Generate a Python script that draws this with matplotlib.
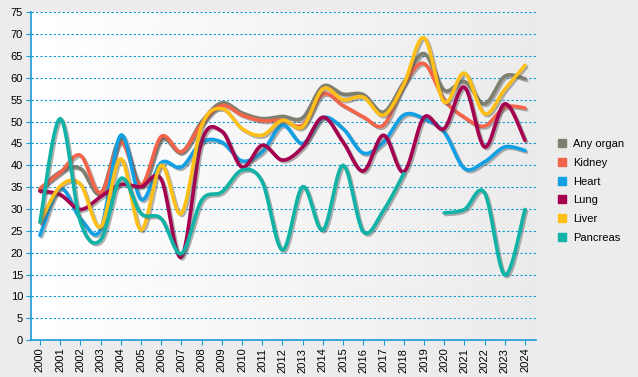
import numpy as np
import matplotlib.pyplot as plt
import matplotlib.patheffects as pe
from matplotlib.lines import Line2D

plt.rcParams['font.family'] = ['Liberation Sans', 'DejaVu Sans']

years = list(range(2000, 2025))

any_organ = [34.5, 38.5, 39.3, 33.5, 46.1, 35.4, 46.0, 43.0, 50.0, 54.3, 52.0, 50.7, 51.2, 50.9,
             58.1, 56.3, 56.2, 52.2, 59.0, 65.6, 57.2, 59.2, 54.1, 60.4, 59.8]
kidney = [34.7, 38.3, 42.3, 33.7, 45.3, 35.4, 46.6, 43.1, 49.5, 53.7, 51.5, 50.2, 50.3, 49.2,
          56.3, 53.7, 51.1, 49.2, 58.5, 63.3, 55.0, 51.0, 49.0, 53.3, 53.1]
heart = [24.0, 34.7, 27.8, 25.3, 46.9, 32.2, 40.6, 39.6, 45.3, 45.3, 41.0, 43.1, 49.2, 45.0,
         50.9, 48.4, 42.8, 45.3, 51.5, 50.7, 47.6, 39.3, 40.8, 44.2, 43.4]
lung = [34.1, 33.3, 29.9, 32.8, 35.6, 35.1, 36.8, 19.0, 45.5, 47.8, 39.6, 44.6, 41.2, 44.2,
        51.0, 45.3, 38.7, 46.9, 38.5, 51.0, 48.4, 57.9, 44.2, 54.1, 45.7]
liver = [27.0, 35.2, 35.7, 25.9, 41.5, 25.2, 40.0, 29.0, 49.0, 53.0, 48.4, 46.9, 50.3, 48.8,
         57.5, 55.0, 55.6, 51.5, 58.5, 69.2, 54.5, 61.1, 51.8, 57.4, 62.9]
pancreas = [27.0, 50.7, 27.1, 22.9, 37.0, 29.0, 27.8, 19.8, 32.0, 33.9, 38.9, 36.2, 20.6, 35.1,
            25.2, 40.0, 24.8, 29.7, 38.1, np.nan, 29.1, 29.9, 33.7, 14.9, 29.9]

names = ['Any organ', 'Kidney', 'Heart', 'Lung', 'Liver', 'Pancreas']
series = [any_organ, kidney, heart, lung, liver, pancreas]
colors = ['#7f7f6f', '#f4644a', '#12a0e4', '#a5004f', '#fdbf18', '#10b3a5']


def catmull(x, y, n=16):
    # smooth curve through every point (Catmull-Rom)
    x = np.asarray(x, float)
    y = np.asarray(y, float)
    px = np.concatenate([[x[0]], x, [x[-1]]])
    py = np.concatenate([[y[0]], y, [y[-1]]])
    xs, ys = [], []
    t = np.linspace(0, 1, n, endpoint=False)
    for i in range(1, len(px) - 2):
        for p, out in ((px, xs), (py, ys)):
            p0, p1, p2, p3 = p[i - 1], p[i], p[i + 1], p[i + 2]
            out.extend(0.5 * (2 * p1 + (-p0 + p2) * t + (2 * p0 - 5 * p1 + 4 * p2 - p3) * t ** 2
                              + (-p0 + 3 * p1 - 3 * p2 + p3) * t ** 3))
    xs.append(x[-1])
    ys.append(y[-1])
    return xs, ys


fig = plt.figure(figsize=(6.38, 3.77), dpi=100)
fig.patch.set_facecolor('#ececec')
ax = fig.add_axes([0.048, 0.098, 0.792, 0.869])

# background gradient
grad = np.linspace(1.0, 0.92, 256).reshape(1, -1)
ax.imshow(grad, cmap='gray', vmin=0, vmax=1, aspect='auto', extent=(0, 1, 0, 1),
          transform=ax.transAxes, zorder=0)

shadow = [pe.SimpleLineShadow(offset=(1.2, -1.2), shadow_color='#555555', alpha=0.45), pe.Normal()]

for name, vals, c in zip(names, series, colors):
    v = np.array(vals, float)
    x = np.array(years, float)
    idx = np.where(~np.isnan(v))[0]
    runs = np.split(idx, np.where(np.diff(idx) > 1)[0] + 1)  # gaps in data
    for r in runs:
        xs, ys = catmull(x[r], v[r])
        ax.plot(xs, ys, color=c, lw=2.6, solid_capstyle='round', path_effects=shadow, zorder=3)

ax.set_xlim(1999.54, 2024.54)
ax.set_ylim(0, 75)
ax.set_yticks(range(0, 76, 5))
ax.set_xticks(years)
ax.set_xticklabels([str(y) for y in years], rotation=90)
ax.tick_params(labelsize=8, colors='#1a9bd7', labelcolor='black', length=3.5, pad=2)
ax.yaxis.grid(True, linestyle=(0, (2, 2)), color='#0a9ad8', lw=0.8)
ax.set_axisbelow(True)
for s in ['top', 'right']:
    ax.spines[s].set_visible(False)
for s in ['left', 'bottom']:
    ax.spines[s].set_color('#1a9bd7')
    ax.spines[s].set_linewidth(1.2)

handles = [Line2D([], [], marker='s', color=c, ls='none', markersize=6) for c in colors]
fig.legend(handles, names, loc='upper left', bbox_to_anchor=(0.856, 0.657), frameon=False,
           fontsize=8, handletextpad=0.55, labelspacing=0.78, handlelength=1.0)

fig.savefig('out.png', dpi=100, facecolor=fig.get_facecolor())
